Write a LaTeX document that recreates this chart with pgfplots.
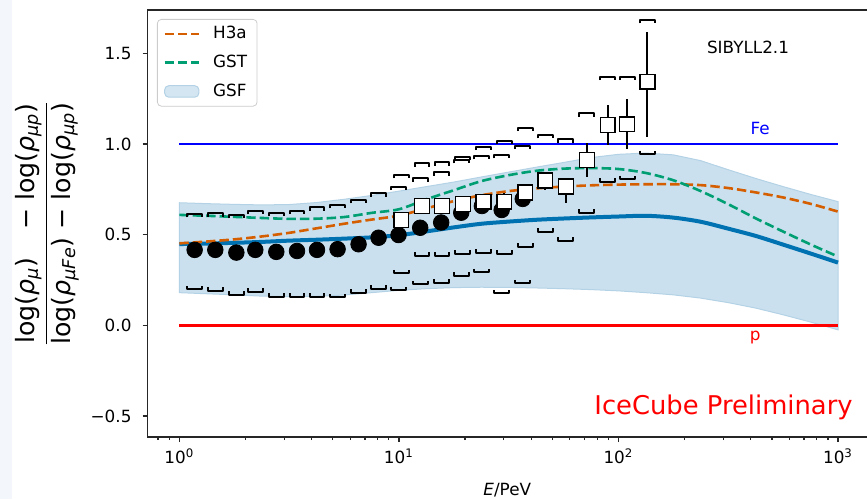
\documentclass[border=0pt]{standalone}
\usepackage{amsmath}
\usepackage{pgfplots}
\pgfplotsset{compat=1.18}
\usepackage{pgfplotstable}
\usepgfplotslibrary{fillbetween}
\usepackage{fontspec}
\setmainfont{DejaVu Sans}

\definecolor{cH3a}{HTML}{D55E00}
\definecolor{cGST}{HTML}{009E73}
\definecolor{cGSF}{HTML}{0072B2}
\definecolor{bandfill}{RGB}{202,224,238}
\definecolor{bandedge}{RGB}{180,210,230}
\definecolor{strip}{RGB}{243,246,250}
\definecolor{legframe}{RGB}{204,204,204}

% systematic-uncertainty brackets
\pgfdeclareplotmark{sysup}{%
  \pgfpathmoveto{\pgfqpoint{-3.7pt}{-1.7pt}}%
  \pgfpathlineto{\pgfqpoint{-3.7pt}{0pt}}%
  \pgfpathlineto{\pgfqpoint{3.7pt}{0pt}}%
  \pgfpathlineto{\pgfqpoint{3.7pt}{-1.7pt}}%
  \pgfusepathqstroke}
\pgfdeclareplotmark{syslow}{%
  \pgfpathmoveto{\pgfqpoint{-3.7pt}{1.7pt}}%
  \pgfpathlineto{\pgfqpoint{-3.7pt}{0pt}}%
  \pgfpathlineto{\pgfqpoint{3.7pt}{0pt}}%
  \pgfpathlineto{\pgfqpoint{3.7pt}{1.7pt}}%
  \pgfusepathqstroke}

% model curves: central GSF, band limits, H3a, GST
\pgfplotstableread{
E      C     U     L      O     G
1      0.448 0.676 0.180  0.452 0.609
1.334  0.451 0.671 0.174  0.462 0.604
1.778  0.455 0.667 0.168  0.474 0.598
2.371  0.460 0.664 0.161  0.490 0.592
3.162  0.467 0.666 0.158  0.510 0.587
4.217  0.472 0.677 0.160  0.535 0.588
5.623  0.478 0.695 0.167  0.560 0.597
7.499  0.485 0.716 0.180  0.583 0.620
10     0.497 0.740 0.193  0.605 0.640
13.34  0.518 0.765 0.202  0.645 0.695
17.78  0.540 0.790 0.208  0.685 0.745
23.71  0.560 0.818 0.210  0.717 0.795
31.62  0.572 0.845 0.209  0.740 0.828
42.17  0.582 0.872 0.206  0.755 0.852
56.23  0.589 0.898 0.202  0.765 0.864
74.99  0.595 0.925 0.197  0.772 0.867
100    0.600 0.943 0.190  0.776 0.862
133.4  0.604 0.950 0.180  0.778 0.840
177.8  0.594 0.940 0.168  0.778 0.800
237.1  0.571 0.908 0.150  0.773 0.740
316.2  0.533 0.858 0.125  0.757 0.668
421.7  0.493 0.810 0.095  0.733 0.590
562.3  0.445 0.765 0.058  0.705 0.517
749.9  0.396 0.722 0.018  0.670 0.446
1000   0.346 0.682 -0.025 0.627 0.379
}\curves

% filled circles: value, upper and lower systematic limit
\pgfplotstableread{
E      v     su    sl
1.174  0.416 0.614 0.199
1.458  0.416 0.618 0.191
1.818  0.401 0.609 0.168
2.218  0.416 0.632 0.186
2.764  0.405 0.621 0.158
3.435  0.410 0.632 0.158
4.236  0.416 0.651 0.158
5.256  0.420 0.664 0.155
6.551  0.447 0.691 0.180
8.078  0.483 0.728 0.202
9.960  0.498 0.765 0.195
12.50  0.538 0.811 0.227
15.58  0.567 0.844 0.235
19.22  0.621 0.912 0.274
23.87  0.658 0.934 0.293
29.38  0.636 0.939 0.177
36.65  0.697 0.991 0.232
}\circles

% open squares: value, stat. errors, upper and lower systematic limit
\pgfplotstableread{
E      v     ep    em    su    sl
10.25  0.581 0.020 0.020 0.829 0.287
12.73  0.658 0.020 0.020 0.894 0.383
15.70  0.658 0.020 0.020 0.899 0.383
19.56  0.669 0.030 0.030 0.928 0.394
24.29  0.682 0.040 0.045 0.985 0.401
30.17  0.682 0.045 0.040 1.018 0.394
37.59  0.732 0.045 0.060 1.090 0.434
46.37  0.798 0.049 0.052 1.050 0.517
57.61  0.765 0.050 0.090 1.026 0.467
71.78  0.912 0.092 0.092 1.169 0.621
89.28  1.105 0.110 0.111 1.371 0.792
109.5  1.109 0.137 0.138 1.371 0.807
135.5  1.343 0.276 0.303 1.684 0.945
}\squares

\begin{document}
\begin{tikzpicture}
\fill[strip] (-73.75pt,-31pt) rectangle (-67.75pt,218.5pt);
\begin{axis}[
  at={(0,0)}, anchor=south west,
  scale only axis, width=359.75pt, height=213.5pt,
  xmode=log, log basis x=10,
  xmin=0.716, xmax=1355,
  ymin=-0.616, ymax=1.739,
  axis x line=box, axis y line=left,
  x axis line style={-}, y axis line style={-},
  axis line style={black!85, line width=0.65pt},
  xtick={1,10,100,1000},
  xticklabels={10\textsuperscript{0},10\textsuperscript{1},10\textsuperscript{2},10\textsuperscript{3}},
  minor xtick={0.8,0.9,2,3,4,5,6,7,8,9,20,30,40,50,60,70,80,90,200,300,400,500,600,700,800,900},
  ytick={-0.5,0,0.5,1,1.5},
  yticklabels={−0.5,0.0,0.5,1.0,1.5},
  xtick pos=bottom, ytick pos=left,
  tick align=outside,
  major tick length=2.5pt, minor tick length=1.5pt,
  every tick/.style={black!85, line width=0.6pt},
  /pgf/number format/assume math mode=true,
  ticklabel style={font=\fontsize{8.4}{10}\selectfont},
  yticklabel style={xshift=-2pt},
  every axis x label/.style={at={(axis description cs:0.5,-0.124)}, anchor=center},
  every axis y label/.style={at={(axis description cs:-0.1397,0.5)}, anchor=center, rotate=90},
  xlabel={\fontsize{8.4}{10}\selectfont\textit{E}/PeV},
  ylabel={\fontsize{12.6}{15}\selectfont$\genfrac{}{}{0.7pt}{0}{\mbox{log(\textit{ρ}\textsubscript{\textit{μ}})\hspace{1.1em}− log(\textit{ρ}\textsubscript{\textit{μp}})}}{\mbox{log(\textit{ρ}\textsubscript{\textit{μFe}}) − log(\textit{ρ}\textsubscript{\textit{μp}})}}$},
  legend style={at={(axis description cs:0.0132,0.979)}, anchor=north west,
    draw=legframe, rounded corners=2pt, fill=white, fill opacity=0.8, text opacity=1,
    font=\fontsize{8.4}{10}\selectfont, row sep=2.6pt, column sep=4.5pt,
    inner xsep=3pt, inner ysep=1.5pt},
  legend cell align=left,
]
% GSF uncertainty band
\addplot[name path=up, draw=none, forget plot] table[x=E,y=U]{\curves};
\addplot[name path=lo, draw=none, forget plot] table[x=E,y=L]{\curves};
\addplot[fill=bandfill, draw=bandedge, line width=0.5pt, forget plot] fill between[of=up and lo];
% pure iron and pure proton references
\addplot[blue, line width=1.25pt, forget plot] coordinates {(1,1) (1000,1)};
\addplot[red, line width=1.25pt, forget plot] coordinates {(1,0) (1000,0)};
% GSF central curve
\addplot[cGSF, line width=2pt, smooth, forget plot] table[x=E,y=C]{\curves};
% composition models
\addplot[cH3a, line width=1.3pt, dash pattern=on 4.7pt off 2pt, smooth] table[x=E,y=O]{\curves};
\addlegendentry{H3a}
\addplot[cGST, line width=1.3pt, dash pattern=on 4.7pt off 2pt, smooth] table[x=E,y=G]{\curves};
\addlegendentry{GST}
\addlegendimage{area legend, fill=bandfill, draw=bandedge, line width=0.5pt}
\addlegendentry{GSF}
% filled circles with systematic brackets
\addplot[only marks, mark=*, mark size=3.9pt, black, forget plot] table[x=E,y=v]{\circles};
\addplot[only marks, mark=sysup, mark options={line width=1pt, line join=round}, black, forget plot] table[x=E,y=su]{\circles};
\addplot[only marks, mark=syslow, mark options={line width=1pt, line join=round}, black, forget plot] table[x=E,y=sl]{\circles};
% open squares with systematic brackets and statistical errors
\addplot[only marks, mark=sysup, mark options={line width=1pt, line join=round}, black, forget plot] table[x=E,y=su]{\squares};
\addplot[only marks, mark=syslow, mark options={line width=1pt, line join=round}, black, forget plot] table[x=E,y=sl]{\squares};
\addplot[only marks, mark=square*, mark size=3.7pt, mark options={fill=white, draw=black, line width=0.75pt}, forget plot,
  error bars/.cd, y dir=both, y explicit, error mark=none, error bar style={black, line width=1pt}]
  table[x=E, y=v, y error plus=ep, y error minus=em]{\squares};
% annotations
\node[text=blue, font=\fontsize{8.4}{10}\selectfont] at (axis cs:442,1.088) {Fe};
\node[text=red, font=\fontsize{8.4}{10}\selectfont] at (axis cs:419,-0.07) {p};
\node[font=\fontsize{8.4}{10}\selectfont] at (axis cs:389,1.535) {SIBYLL2.1};
\node[text=red, font=\fontsize{12.9}{15}\selectfont, anchor=east, inner sep=0pt] at (axis cs:1170,-0.455) {IceCube Preliminary};
\end{axis}
\pgfresetboundingbox
\path[use as bounding box] (-73.75pt,-31pt) rectangle (359.75pt,218.5pt);
\end{tikzpicture}
\end{document}
